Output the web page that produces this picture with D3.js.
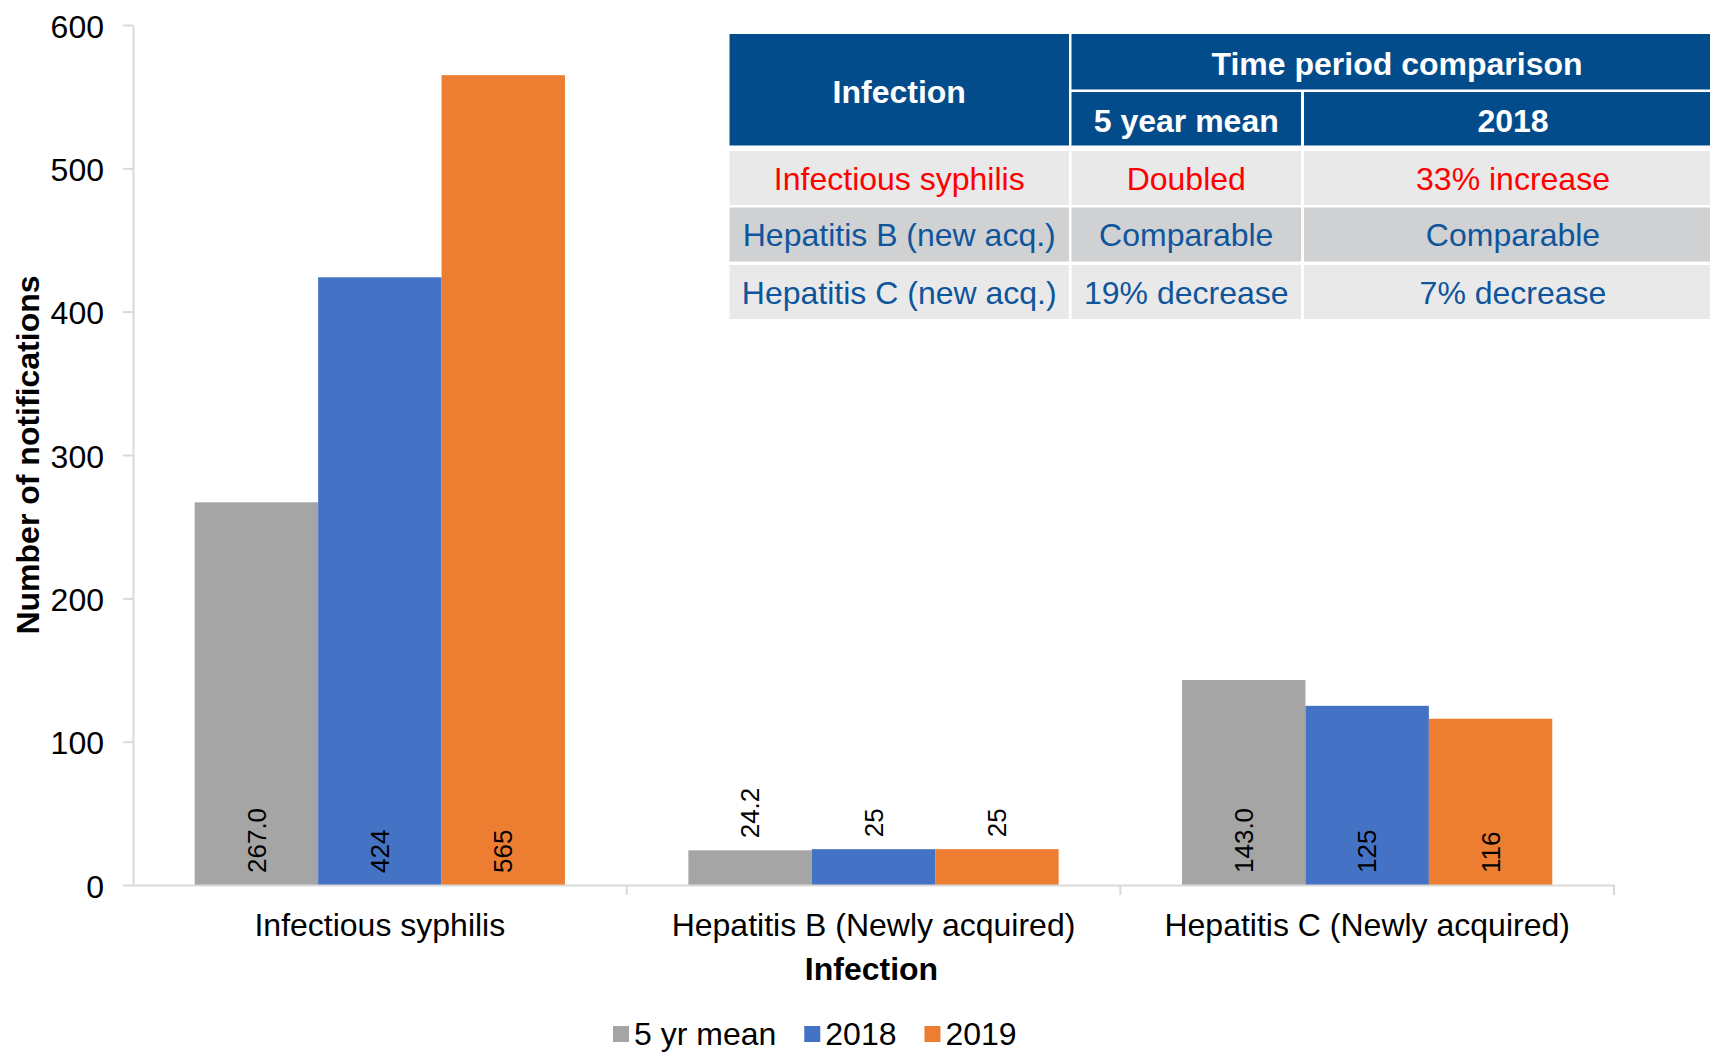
<!DOCTYPE html>
<html>
<head>
<meta charset="utf-8">
<script src="https://cdn.jsdelivr.net/npm/d3@7"></script>
<style>
  body { margin: 0; background: #fff; }
  text { font-family: "Liberation Sans", Arial, sans-serif; }
</style>
</head>
<body>
<div id="chart"></div>
<script>
// Chart data
const categories = ["Infectious syphilis", "Hepatitis B (Newly acquired)", "Hepatitis C (Newly acquired)"];
const seriesNames = ["5 yr mean", "2018", "2019"];
const meanValues = [267.0, 24.2, 143.0];
const values2018 = [424, 25, 125];
const values2019 = [565, 25, 116];
const yTicks = [0, 100, 200, 300, 400, 500, 600];

// Comparison table
const tableHeadTop = "Time period comparison";
const tableHeadCols = ["Infection", "5 year mean", "2018"];
const tableInfections = ["Infectious syphilis", "Hepatitis B (new acq.)", "Hepatitis C (new acq.)"];
const tableVsMean = ["Doubled", "Comparable", "19% decrease"];
const tableVs2018 = ["33% increase", "Comparable", "7% decrease"];

const width = 1710;
const height = 1053;
const margin = { top: 25, left: 133, right: 96, bottom: 168 };

const colors = ["#a5a5a5", "#4472c4", "#ed7d31"];
const seriesValues = [meanValues, values2018, values2019];

// long format for bars
const bars = [];
categories.forEach((c, i) => {
    seriesNames.forEach((s, j) => {
        bars.push({ cat: c, series: s, value: seriesValues[j][i], si: j });
    });
});

const svg = d3.select("#chart")
    .append("svg")
    .attr("width", width)
    .attr("height", height);

svg.append("rect").attr("width", width).attr("height", height).attr("fill", "#fff");

// Scales
const x0 = d3.scaleBand()
    .domain(categories)
    .range([margin.left, width - margin.right])
    .padding(0);

const x1 = d3.scaleBand()
    .domain(seriesNames)
    .range([0, x0.bandwidth()])
    .paddingInner(0)
    .paddingOuter(0.5);

const y = d3.scaleLinear()
    .domain([0, 600])
    .range([height - margin.bottom, margin.top]);

const color = d3.scaleOrdinal().domain(seriesNames).range(colors);

// Y axis
const yAxis = svg.append("g")
    .attr("transform", `translate(${margin.left},0)`)
    .call(d3.axisLeft(y).tickValues(yTicks).tickSize(10).tickSizeOuter(0).tickPadding(19));
yAxis.select(".domain").attr("stroke", "#d9d9d9").attr("stroke-width", 2);
yAxis.selectAll(".tick line").attr("stroke", "#d9d9d9").attr("stroke-width", 2);
yAxis.selectAll(".tick text")
    .attr("font-size", 32)
    .attr("dy", "0.38em")
    .attr("font-family", "Liberation Sans, Arial, sans-serif")
    .attr("fill", "#000");

// Bars
svg.append("g")
    .selectAll("rect")
    .data(bars)
    .join("rect")
    .attr("x", d => x0(d.cat) + x1(d.series))
    .attr("y", d => y(d.value))
    .attr("width", x1.bandwidth())
    .attr("height", d => y(0) - y(d.value))
    .attr("fill", d => color(d.series));

// X axis
const xAxis = svg.append("g")
    .attr("transform", `translate(0,${y(0)})`)
    .call(d3.axisBottom(x0).tickSize(0).tickPadding(28));
xAxis.select(".domain").attr("stroke", "#d9d9d9").attr("stroke-width", 2);
xAxis.selectAll(".tick text")
    .attr("font-size", 32)
    .attr("font-family", "Liberation Sans, Arial, sans-serif")
    .attr("fill", "#000");

// category boundary ticks
const bounds = categories.map(c => x0(c)).concat([x0.range()[1]]);
svg.append("g")
    .selectAll("line")
    .data(bounds.slice(1))
    .join("line")
    .attr("x1", d => d)
    .attr("x2", d => d)
    .attr("y1", y(0))
    .attr("y2", y(0) + 10)
    .attr("stroke", "#d9d9d9")
    .attr("stroke-width", 2);

// Data labels (rotated)
const fmt = d => d.si === 0 ? d3.format(".1f")(d.value) : d3.format("d")(d.value);
svg.append("g")
    .selectAll("text")
    .data(bars)
    .join("text")
    .attr("transform", d => {
        const cx = x0(d.cat) + x1(d.series) + x1.bandwidth() / 2;
        const base = (y(0) - y(d.value)) > 80 ? y(0) - 12 : y(d.value) - 12;
        return `translate(${cx},${base}) rotate(-90)`;
    })
    .attr("text-anchor", "start")
    .attr("dy", "0.35em")
    .attr("font-size", 26)
    .attr("fill", "#000")
    .text(fmt);

// Axis titles
svg.append("text")
    .attr("x", (x0.range()[0] + x0.range()[1]) / 2 - 2)
    .attr("y", 980)
    .attr("text-anchor", "middle")
    .attr("font-size", 32)
    .attr("font-weight", "bold")
    .text("Infection");

svg.append("text")
    .attr("transform", `translate(39,${(y(0) + y(600)) / 2}) rotate(-90)`)
    .attr("text-anchor", "middle")
    .attr("font-size", 32)
    .attr("font-weight", "bold")
    .text("Number of notifications");

// Legend
const legend = svg.append("g").attr("transform", "translate(613,0)");
let lx = 0;
seriesNames.forEach((s, i) => {
    legend.append("rect")
        .attr("x", lx)
        .attr("y", 1026)
        .attr("width", 16)
        .attr("height", 16)
        .attr("fill", color(s));
    const t = legend.append("text")
        .attr("x", lx + 21)
        .attr("y", 1045)
        .attr("font-size", 32)
        .attr("fill", "#000")
        .text(s);
    lx += 21 + t.node().getComputedTextLength() + 28;
});

// Comparison table
const headBlue = "#034c8c";
const colX = [729.5, 1071.5, 1304];
const colW = [339.5, 229.5, 420];
const rowY = [151, 207.5, 265];
const rowH = 54;
const rowFill = ["#e9e9e9", "#d0d1d3", "#e9e9e9"];
const rowText = ["#ff0000", "#0f559b", "#0f559b"];

const table = svg.append("g");

// header cells
table.append("rect").attr("x", colX[0]).attr("y", 34).attr("width", colW[0]).attr("height", 111.5).attr("fill", headBlue);
table.append("rect").attr("x", colX[1]).attr("y", 34).attr("width", colX[2] + colW[2] - colX[1]).attr("height", 55.5).attr("fill", headBlue);
table.append("rect").attr("x", colX[1]).attr("y", 92).attr("width", colW[1]).attr("height", 53.5).attr("fill", headBlue);
table.append("rect").attr("x", colX[2]).attr("y", 92).attr("width", colW[2]).attr("height", 53.5).attr("fill", headBlue);

const headStyle = sel => sel.attr("text-anchor", "middle").attr("dy", "0.36em")
    .attr("font-size", 32).attr("font-weight", "bold").attr("fill", "#fff");

table.append("text").attr("x", colX[0] + colW[0] / 2).attr("y", 91.5).call(headStyle).text(tableHeadCols[0]);
table.append("text").attr("x", 1397).attr("y", 63).call(headStyle).text(tableHeadTop);
table.append("text").attr("x", colX[1] + colW[1] / 2).attr("y", 120.5).call(headStyle).text(tableHeadCols[1]);
table.append("text").attr("x", 1513).attr("y", 120.5).call(headStyle).text(tableHeadCols[2]);

// body rows
const tableRows = tableInfections.map((inf, i) => [inf, tableVsMean[i], tableVs2018[i]]);
tableRows.forEach((row, r) => {
    row.forEach((cell, c) => {
        table.append("rect")
            .attr("x", colX[c])
            .attr("y", rowY[r])
            .attr("width", colW[c])
            .attr("height", rowH)
            .attr("fill", rowFill[r]);
        const cx = c === 2 ? 1513 : colX[c] + colW[c] / 2;
        table.append("text")
            .attr("x", cx)
            .attr("y", rowY[r] + rowH / 2)
            .attr("dy", "0.36em")
            .attr("text-anchor", "middle")
            .attr("font-size", 32)
            .attr("fill", rowText[r])
            .text(cell);
    });
});
</script>
</body>
</html>
